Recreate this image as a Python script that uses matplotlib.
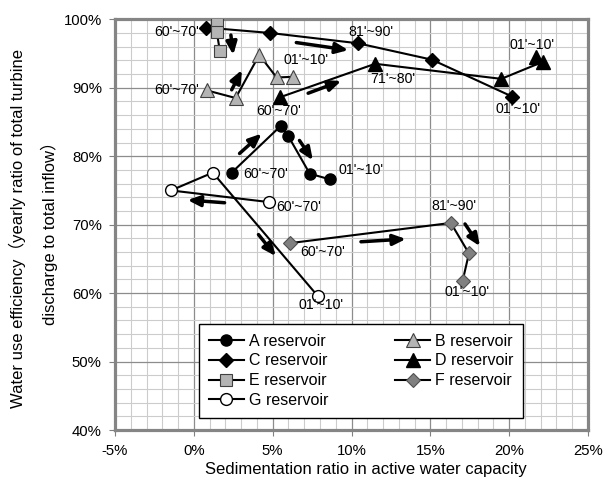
import matplotlib
matplotlib.use("Agg")
import matplotlib.pyplot as plt
from matplotlib.ticker import MultipleLocator, FuncFormatter

# data in percent
A_x = [2.4, 5.5, 6.0, 7.35, 8.65]
A_y = [77.6, 84.4, 82.9, 77.45, 76.6]
B_x = [0.85, 2.65, 4.15, 5.25, 6.3]
B_y = [89.6, 88.5, 94.8, 91.5, 91.6]
C_x = [0.75, 4.85, 10.4, 15.1, 20.2]
C_y = [98.8, 98.0, 96.5, 94.1, 88.7]
D_x = [5.45, 11.5, 19.5, 22.15, 21.7]
D_y = [88.6, 93.5, 91.3, 93.8, 94.5]
E_x = [1.45, 1.45, 1.65]
E_y = [99.8, 98.2, 95.4]
F_x = [6.1, 16.3, 17.45, 17.05]
F_y = [67.3, 70.25, 65.8, 61.8]
G_x = [4.75, -1.45, 1.2, 7.85]
G_y = [73.3, 75.0, 77.6, 59.6]

# trend arrows: (x_start, y_start, x_end, y_end)
arrows = [
    (6.5, 96.6, 9.8, 95.5),
    (7.25, 89.2, 9.35, 91.0),
    (2.35, 97.7, 2.5, 94.8),
    (2.4, 89.7, 3.05, 92.6),
    (2.9, 80.4, 4.3, 83.3),
    (6.7, 82.3, 7.55, 79.4),
    (1.95, 73.2, -0.4, 73.6),
    (4.1, 68.55, 5.2, 65.4),
    (10.6, 67.5, 13.45, 67.9),
    (17.2, 70.1, 18.15, 66.85),
]

# period labels: (text, x, y, ha)
period_labels = [
    ("60'~70'", 0.3, 98.1, "right"),
    ("81'~90'", 11.2, 98.2, "center"),
    ("01'~10'", 20.55, 86.9, "center"),
    ("60'~70'", 0.3, 89.6, "right"),
    ("01'~10'", 7.1, 94.1, "center"),
    ("60'~70'", 5.4, 86.6, "center"),
    ("71'~80'", 12.6, 91.3, "center"),
    ("01'~10'", 21.45, 96.25, "center"),
    ("60'~70'", 3.15, 77.45, "left"),
    ("01'~10'", 9.2, 78.0, "left"),
    ("60'~70'", 5.2, 72.6, "left"),
    ("01'~10'", 8.05, 58.3, "center"),
    ("60'~70'", 6.75, 66.0, "left"),
    ("81'~90'", 16.5, 72.7, "center"),
    ("01'~10'", 17.3, 60.15, "center"),
]

plt.rcParams["font.family"] = ["Liberation Sans", "Noto Sans CJK JP", "DejaVu Sans"]

fig = plt.figure(figsize=(6.16, 4.83), dpi=100)
ax = fig.add_axes([115 / 616, 1 - 430 / 483, 473 / 616, 410.7 / 483])

LIGHT = "#b4b4b4"
MID = "#808080"
lw = 1.5
series = [
    ("A reservoir", A_x, A_y, dict(marker="o", ms=8, mfc="black", mec="black")),
    ("C reservoir", C_x, C_y, dict(marker="D", ms=7, mfc="black", mec="black")),
    ("E reservoir", E_x, E_y, dict(marker="s", ms=8.5, mfc=LIGHT, mec="#404040", mew=0.8)),
    ("G reservoir", G_x, G_y, dict(marker="o", ms=8.5, mfc="white", mec="black", mew=1)),
    ("B reservoir", B_x, B_y, dict(marker="^", ms=9.5, mfc=LIGHT, mec="#404040", mew=0.8)),
    ("D reservoir", D_x, D_y, dict(marker="^", ms=9.5, mfc="black", mec="black")),
    ("F reservoir", F_x, F_y, dict(marker="D", ms=7, mfc=MID, mec="#505050", mew=0.8)),
]
for name, xs, ys, style in series:
    ax.plot(xs, ys, color="black", lw=lw, label=name, zorder=3, **style)

for x0, y0, x1, y1 in arrows:
    ax.annotate("", xy=(x1, y1), xytext=(x0, y0),
                arrowprops=dict(arrowstyle="-|>,head_length=0.75,head_width=0.32",
                                lw=2.5, color="black", shrinkA=0, shrinkB=0),
                zorder=4)

for text, x, y, ha in period_labels:
    ax.text(x, y, text, ha=ha, va="center", fontsize=10.2, zorder=5)

ax.set_xlim(-5, 25)
ax.set_ylim(40, 100)
ax.xaxis.set_major_locator(MultipleLocator(5))
ax.xaxis.set_minor_locator(MultipleLocator(1))
ax.yaxis.set_major_locator(MultipleLocator(10))
ax.yaxis.set_minor_locator(MultipleLocator(2))
pct = FuncFormatter(lambda v, p: f"{v:.0f}%")
ax.xaxis.set_major_formatter(pct)
ax.yaxis.set_major_formatter(pct)
ax.grid(which="minor", color="#cccccc", lw=0.8, zorder=0)
ax.grid(which="major", color="#8c8c8c", lw=0.9, zorder=0)
ax.set_axisbelow(True)
ax.tick_params(which="minor", length=0)
ax.tick_params(axis="x", which="major", length=4, width=0.8, color="#808080",
               pad=6, labelsize=10.7)
ax.tick_params(axis="y", which="major", length=4.5, width=0.8, color="#808080",
               pad=5, labelsize=10.7)
for sp in ax.spines.values():
    sp.set_color("#858585")
    sp.set_linewidth(2.3)

ax.set_xlabel("Sedimentation ratio in active water capacity", fontsize=12)
ax.xaxis.set_label_coords(0.531, -0.078)
fig.text(17.7 / 616, 1 - 229 / 483,
         "Water use efficiency（yearly ratio of total turbine",
         rotation=90, ha="center", va="center", fontsize=12)
fig.text(49.2 / 616, 1 - 229 / 483, "discharge to total inflow）",
         rotation=90, ha="center", va="center", fontsize=12)

leg = ax.legend(ncol=2, loc="upper left", bbox_to_anchor=(0.178, 0.258),
                borderaxespad=0, fontsize=11.5, frameon=True, fancybox=False,
                edgecolor="black", framealpha=1, handlelength=2.2,
                handletextpad=0.3, columnspacing=4.2, labelspacing=0.3,
                borderpad=0.6)
leg.get_frame().set_linewidth(1.0)
leg.set_zorder(6)

fig.savefig("out.png", dpi=100, facecolor="white")
